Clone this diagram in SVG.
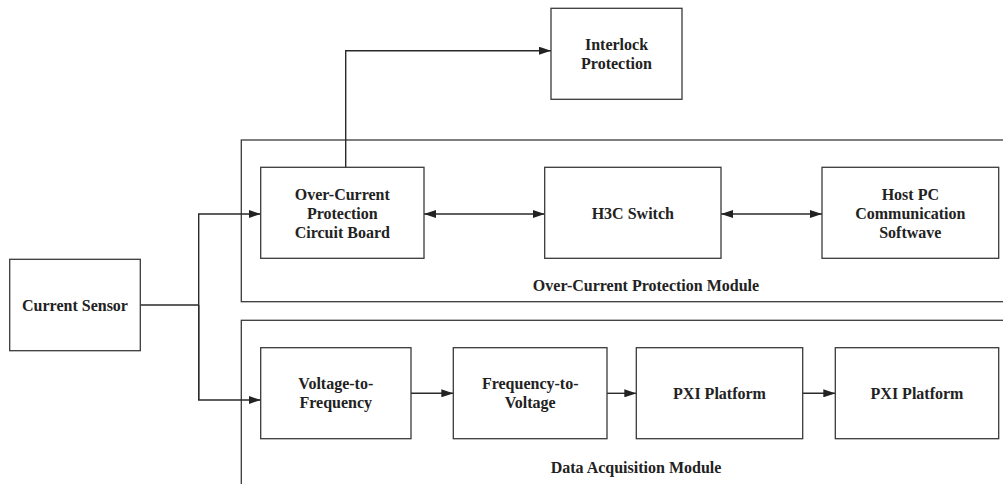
<svg xmlns="http://www.w3.org/2000/svg" width="1003" height="484" viewBox="0 0 1003 484">
  <style>
    .box { fill: #ffffff; stroke: #3a3a3a; stroke-width: 1.3; }
    .module { fill: none; stroke: #3a3a3a; stroke-width: 1.3; }
    .wire { fill: none; stroke: #2a2a2a; stroke-width: 1.4; }
    .lbl { font-family: "Liberation Serif", "Times New Roman", serif; font-weight: bold; font-size: 16px; fill: #222222; text-anchor: middle; }
  </style>
  <defs>
    <marker id="head" viewBox="0 0 12 8" refX="12" refY="4" markerWidth="12" markerHeight="8" markerUnits="userSpaceOnUse" orient="auto-start-reverse">
      <path d="M0,0 L12,4 L0,8 Z" fill="#222222"/>
    </marker>
  </defs>
  <rect width="1003" height="484" fill="#ffffff"/>

  <!-- module frames (open to the right edge) -->
  <g id="module-overcurrent">
    <rect class="module" x="241.3" y="140" width="780" height="161.7"/>
    <text class="lbl" x="646" y="290.5">Over-Current Protection Module</text>
  </g>
  <g id="module-daq">
    <rect class="module" x="241.3" y="320.3" width="780" height="200"/>
    <text class="lbl" x="636" y="473">Data Acquisition Module</text>
  </g>

  <!-- connectors -->
  <g id="connectors">
    <polyline class="wire" points="140.3,305 198.7,305"/>
    <polyline class="wire" points="198.7,400 198.7,214 260.7,214" marker-end="url(#head)"/>
    <polyline class="wire" points="198.7,305 198.7,400 260.7,400" marker-end="url(#head)"/>
    <polyline class="wire" points="345.7,167.3 345.7,50.7 551,50.7" marker-end="url(#head)"/>
    <line class="wire" x1="424" y1="214" x2="544.7" y2="214" marker-start="url(#head)" marker-end="url(#head)"/>
    <line class="wire" x1="721" y1="214" x2="822" y2="214" marker-start="url(#head)" marker-end="url(#head)"/>
    <line class="wire" x1="411" y1="393.3" x2="453.3" y2="393.3" marker-end="url(#head)"/>
    <line class="wire" x1="607" y1="393.3" x2="636.3" y2="393.3" marker-end="url(#head)"/>
    <line class="wire" x1="802.7" y1="393.3" x2="835.3" y2="393.3" marker-end="url(#head)"/>
  </g>

  <g id="current-sensor">
    <rect class="box" x="9.7" y="259.3" width="130.6" height="91.4"/>
    <text class="lbl" x="75" y="310.5">Current Sensor</text>
  </g>

  <g id="interlock-protection">
    <rect class="box" x="551" y="8.3" width="131" height="91"/>
    <text class="lbl" x="616.5" y="49.8">Interlock</text>
    <text class="lbl" x="616.5" y="68.8">Protection</text>
  </g>

  <g id="overcurrent-board">
    <rect class="box" x="260.7" y="167.3" width="163.3" height="91"/>
    <text class="lbl" x="342.3" y="199.5">Over-Current</text>
    <text class="lbl" x="342.3" y="218.5">Protection</text>
    <text class="lbl" x="342.3" y="237.5">Circuit Board</text>
  </g>

  <g id="h3c-switch">
    <rect class="box" x="544.7" y="167.3" width="176.3" height="91"/>
    <text class="lbl" x="632.8" y="218.5">H3C Switch</text>
  </g>

  <g id="host-pc">
    <rect class="box" x="822" y="167.3" width="176.7" height="91"/>
    <text class="lbl" x="910.3" y="199.5">Host PC</text>
    <text class="lbl" x="910.3" y="218.5">Communication</text>
    <text class="lbl" x="910.3" y="237.5">Softwave</text>
  </g>

  <g id="voltage-to-frequency">
    <rect class="box" x="260.7" y="347.7" width="150.3" height="91"/>
    <text class="lbl" x="335.8" y="389.2">Voltage-to-</text>
    <text class="lbl" x="335.8" y="408.2">Frequency</text>
  </g>

  <g id="frequency-to-voltage">
    <rect class="box" x="453.3" y="347.7" width="153.7" height="91"/>
    <text class="lbl" x="530.2" y="389.2">Frequency-to-</text>
    <text class="lbl" x="530.2" y="408.2">Voltage</text>
  </g>

  <g id="pxi-platform-1">
    <rect class="box" x="636.3" y="347.7" width="166.4" height="91"/>
    <text class="lbl" x="719.5" y="398.8">PXI Platform</text>
  </g>

  <g id="pxi-platform-2">
    <rect class="box" x="835.3" y="347.7" width="163.4" height="91"/>
    <text class="lbl" x="917" y="398.8">PXI Platform</text>
  </g>
</svg>
